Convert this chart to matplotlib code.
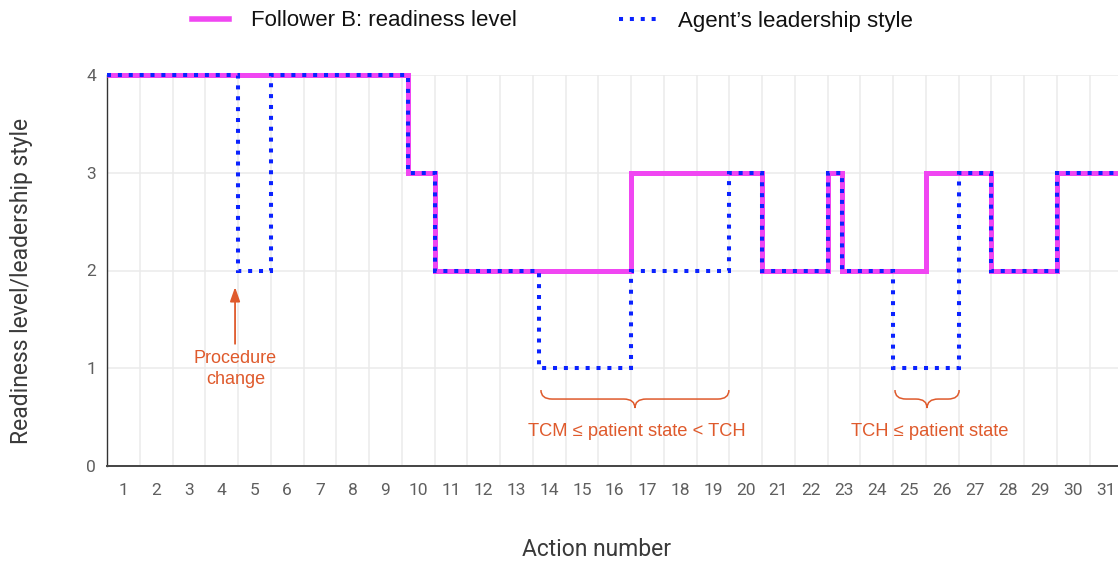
import matplotlib
matplotlib.use("Agg")
import matplotlib.pyplot as plt
from matplotlib.path import Path
from matplotlib.patches import PathPatch
from matplotlib.lines import Line2D

# ---------------- data ----------------
actions = list(range(1, 32))
y_ticks = [0, 1, 2, 3, 4]

# step edges (action units; band of action k spans k-0.5 .. k+0.5)
readiness_edges = [0.5, 9.69, 10.5, 16.5, 20.5, 22.5, 22.93, 25.5, 27.5, 29.5, 31.5]
readiness_levels = [4, 3, 2, 3, 2, 3, 2, 3, 2, 3]

style_edges = [0.5, 4.5, 5.5, 9.69, 10.5, 13.69, 16.5, 19.5, 20.5, 22.5, 22.93,
               24.5, 26.5, 27.5, 29.5, 31.5]
style_levels = [4, 2, 4, 3, 2, 1, 2, 3, 2, 3, 2, 1, 3, 2, 3]

series_labels = ["Follower B: readiness level", "Agent\u2019s leadership style"]
ann_texts = ["Procedure\nchange", "TCM \u2264 patient state < TCH", "TCH \u2264 patient state"]

# ---------------- style ----------------
MAGENTA = "#f046f2"
BLUE = "#0a22ff"
ORANGE = "#df5a2c"
GRID = "#ebebeb"
TICK = "#5f5f5f"
TITLE = "#3a3a3a"
ARIAL = ["Liberation Sans", "DejaVu Sans"]
ROBOTO = ["Roboto", "DejaVu Sans"]

W, H = 1118, 562
fig = plt.figure(figsize=(W / 100, H / 100), dpi=100)
ax = fig.add_axes([107 / W, 96 / H, 1015.25 / W, 391 / H])

ax.set_xlim(0.5, 31.5)
ax.set_ylim(0, 4)

# lines
ax.stairs(readiness_levels, readiness_edges, baseline=None, color=MAGENTA,
          linewidth=3.6, clip_on=False, zorder=3)
ax.stairs(style_levels, style_edges, baseline=None, color=BLUE,
          linewidth=2.9, linestyle=(0, (1.0, 1.7)), clip_on=False, zorder=4)

# grid
ax.set_xticks(actions)
ax.set_xticks([a + 0.5 for a in [0] + actions], minor=True)
ax.set_yticks(y_ticks)
ax.grid(which="minor", axis="x", color=GRID, linewidth=1.1, zorder=0)
ax.grid(which="major", axis="y", color=GRID, linewidth=1.1, zorder=0)
ax.grid(which="major", axis="x", visible=False)
ax.tick_params(axis="both", which="both", length=0)
ax.tick_params(axis="x", pad=12, labelsize=12.5, labelcolor=TICK)
ax.tick_params(axis="y", pad=8, labelsize=12.5, labelcolor=TICK)
for lab in ax.get_xticklabels() + ax.get_yticklabels():
    lab.set_family(ROBOTO)

for s in ["top", "right"]:
    ax.spines[s].set_visible(False)
ax.spines["left"].set_color("#333333")
ax.spines["left"].set_linewidth(1.0)
ax.spines["bottom"].set_color("#444444")
ax.spines["bottom"].set_linewidth(1.4)

fig.text(22 / W, 1 - 281 / H, "Readiness level/leadership style", rotation=90,
         ha="center", va="center", fontsize=16.5, color=TITLE, family=ROBOTO)
fig.text(597 / W, 1 - 550 / H, "Action number", ha="center", va="center",
         fontsize=16.5, color=TITLE, family=ROBOTO)

# legend
handles = [Line2D([], [], color=MAGENTA, linewidth=4.0),
           Line2D([], [], color=BLUE, linewidth=2.9, linestyle=(0, (1.0, 1.7)))]
leg = fig.legend(handles, series_labels, ncol=2, loc="center",
                 bbox_to_anchor=(552 / W, 1 - 21 / H), frameon=False,
                 prop={"family": ARIAL, "size": 16}, handlelength=1.7,
                 handletextpad=0.95, columnspacing=4.6)
for t in leg.get_texts():
    t.set_color("#111111")

# annotations
ax.annotate("", xy=(4.41, 1.83), xytext=(4.41, 1.25),
            arrowprops=dict(arrowstyle="-|>,head_length=0.85,head_width=0.3",
                            color=ORANGE, lw=1.3, shrinkA=0, shrinkB=0))
ax.text(4.42, 0.99, ann_texts[0], ha="center", va="center", fontsize=13,
        color=ORANGE, family=ARIAL, linespacing=1.3)


def brace(x0, x1, xc, y_top=0.777, y_mid=0.685, y_tip=0.593, r=0.34):
    verts = [(x0, y_top), (x0, y_mid), (x0 + r, y_mid),
             (xc - r, y_mid), (xc, y_mid), (xc, y_tip),
             (xc, y_mid), (xc + r, y_mid),
             (x1 - r, y_mid), (x1, y_mid), (x1, y_top)]
    codes = [Path.MOVETO, Path.CURVE3, Path.CURVE3,
             Path.LINETO, Path.CURVE3, Path.CURVE3,
             Path.CURVE3, Path.CURVE3,
             Path.LINETO, Path.CURVE3, Path.CURVE3]
    ax.add_patch(PathPatch(Path(verts, codes), facecolor="none", edgecolor=ORANGE,
                           linewidth=1.1, clip_on=False, zorder=2))


brace(13.75, 19.49, 16.62)
brace(24.56, 26.52, 25.54)
ax.text(16.68, 0.35, ann_texts[1], ha="center", va="center", fontsize=13.2,
        color=ORANGE, family=ARIAL)
ax.text(25.63, 0.35, ann_texts[2], ha="center", va="center", fontsize=13.2,
        color=ORANGE, family=ARIAL)

fig.savefig("out.png", dpi=100)
